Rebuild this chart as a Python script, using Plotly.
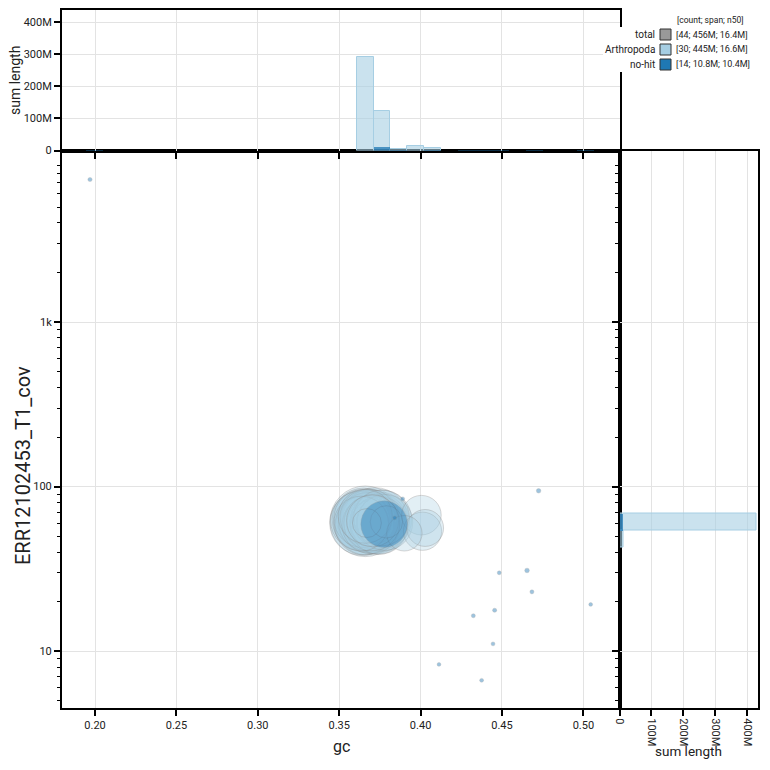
import numpy as np
import plotly.graph_objects as go

# ---------------- data ----------------
# Arthropoda contigs: gc, coverage, length (Mb)
arth_gc = [0.3660, 0.3640, 0.3650, 0.3665, 0.3720, 0.3685, 0.3735, 0.3670, 0.3630,
           0.3750, 0.3655, 0.3690, 0.3765, 0.3675, 0.3645, 0.3695, 0.3745, 0.3680,
           0.3780, 0.3760, 0.3700, 0.3635, 0.3660, 0.3705, 0.4005, 0.4012, 0.4028,
           0.3900, 0.3790, 0.3670]
arth_cov = [61.5, 60.0, 63.0, 59.0, 62.0, 60.5, 59.5, 62.5, 62.0,
            61.0, 58.0, 63.5, 63.0, 61.0, 64.0, 58.5, 58.0, 65.0,
            60.5, 64.5, 60.0, 59.5, 66.0, 62.0, 67.0, 53.5, 56.0,
            52.0, 61.0, 60.0]
arth_len = [24.0, 20.0, 19.0, 18.0, 21.0, 18.0, 18.0, 17.5, 17.0,
            17.0, 16.8, 16.6, 16.6, 16.5, 16.2, 16.0, 16.0, 15.5,
            15.0, 15.0, 15.0, 14.5, 14.0, 13.0, 7.5, 7.0, 6.5,
            6.0, 5.0, 4.0]

# no-hit contigs
nohit_gc = [0.3776, 0.1969, 0.4725, 0.4483, 0.4654, 0.4684, 0.5045, 0.4324,
            0.4455, 0.4445, 0.4113, 0.4375, 0.3841, 0.3890]
nohit_cov = [59.1, 7345, 94.2, 29.9, 30.9, 22.9, 19.2, 16.4,
             17.7, 11.06, 8.30, 6.64, 64.6, 84.2]
nohit_len = [10.4, 0.040, 0.055, 0.030, 0.060, 0.035, 0.025, 0.035,
             0.040, 0.030, 0.025, 0.030, 0.025, 0.030]

legend_names = ["total", "Arthropoda", "no-hit"]
legend_stats = ["[44; 456M; 16.4M]", "[30; 445M; 16.6M]", "[14; 10.8M; 10.4M]"]
legend_header = "[count; span; n50]"

x_title = "gc"
y_title = "ERR12102453_T1_cov"
len_title = "sum length"

gc_ticks = [0.20, 0.25, 0.30, 0.35, 0.40, 0.45, 0.50]
cov_ticks = [10, 100, 1000]
cov_ticktext = ["10", "100", "1k"]
cov_minor = [m * d for d in (1, 10, 100, 1000) for m in range(2, 10)]
len_ticks = [0, 100, 200, 300, 400]
len_ticktext = ["0", "100M", "200M", "300M", "400M"]

# ---------------- style ----------------
PX = 770.0
FONT = "Roboto"
TXT = "#222"
C_ARTH = "#a6cee3"
C_NOHIT = "#1f78b4"
C_TOTAL = "#999999"
GRID = "#e3e3e3"
SIZE_K = 14.4   # px diameter per sqrt(Mb)
SIZE_MIN = 3.0  # px added in quadrature for tiny contigs

X0, X1 = 62 / PX, 619.5 / PX
Y0, Y1 = 1 - 708 / PX, 1 - 150.5 / PX
TOP1 = 1 - 10 / PX
RIGHT1 = 758 / PX

GC_RANGE = [0.1797, 0.5222]
LOGCOV_RANGE = [0.654, 4.0425]


def diam(lengths):
    return np.sqrt(SIZE_K ** 2 * np.asarray(lengths) + SIZE_MIN ** 2)


def px_x(v):
    return v / PX


def px_y(v):
    return 1 - v / PX


fig = go.Figure()

# scatter (blob)
fig.add_trace(go.Scatter(
    x=arth_gc, y=arth_cov, mode="markers",
    marker=dict(size=diam(arth_len), sizemode="diameter",
                color="rgba(166,206,227,0.45)",
                line=dict(color="rgba(140,140,140,0.5)", width=1)),
    xaxis="x", yaxis="y", showlegend=False, hoverinfo="skip"))
fig.add_trace(go.Scatter(
    x=nohit_gc, y=nohit_cov, mode="markers",
    marker=dict(size=diam(nohit_len), sizemode="diameter",
                color="rgba(31,120,180,0.62)",
                line=dict(color="rgba(140,140,140,0.4)", width=0.8)),
    xaxis="x", yaxis="y", showlegend=False, hoverinfo="skip"))

# top histogram (gc)
GC_BIN = 0.0104
GC_START = 0.3607 - 20 * GC_BIN
for gcs, lens, fill, edge, lw in [(arth_gc, arth_len, "rgba(166,206,227,0.6)", C_ARTH, 1),
                                  (nohit_gc, nohit_len, "rgba(31,120,180,0.75)", C_NOHIT, 0)]:
    fig.add_trace(go.Histogram(
        x=gcs, y=lens, histfunc="sum",
        xbins=dict(start=GC_START, end=0.56, size=GC_BIN),
        marker=dict(color=fill, line=dict(color=edge, width=lw)),
        xaxis="x2", yaxis="y2", showlegend=False, hoverinfo="skip"))

# right histogram (log coverage)
COV_BIN = 0.1033
COV_START = 1.735 - 12 * COV_BIN
for covs, lens, fill, edge, lw in [(arth_cov, arth_len, "rgba(166,206,227,0.6)", C_ARTH, 1),
                                   (nohit_cov, nohit_len, "rgba(31,120,180,0.75)", C_NOHIT, 0)]:
    fig.add_trace(go.Histogram(
        y=np.log10(covs), x=lens, histfunc="sum", orientation="h",
        ybins=dict(start=COV_START, end=4.3, size=COV_BIN),
        marker=dict(color=fill, line=dict(color=edge, width=lw)),
        xaxis="x3", yaxis="y3", showlegend=False, hoverinfo="skip"))

axis_common = dict(showline=True, linecolor="black", linewidth=2, mirror=True,
                   ticks="outside", tickcolor="black", tickwidth=1.5, ticklen=6,
                   gridcolor=GRID, gridwidth=1, zeroline=False, automargin=False,
                   tickfont=dict(family=FONT, size=11, color=TXT))

fig.update_layout(
    width=770, height=770,
    margin=dict(l=0, r=0, t=0, b=0),
    paper_bgcolor="white", plot_bgcolor="white",
    barmode="overlay", bargap=0,
    font=dict(family=FONT, color=TXT),
    xaxis=dict(domain=[X0, X1], anchor="y", range=GC_RANGE,
               tickvals=gc_ticks, tickformat=".2f", **axis_common),
    yaxis=dict(domain=[Y0, Y1], anchor="x", type="log", range=LOGCOV_RANGE,
               tickvals=cov_ticks, ticktext=cov_ticktext,
               minor=dict(tickvals=cov_minor, ticks="outside", ticklen=3,
                          tickcolor="black", tickwidth=1, showgrid=False),
               **axis_common),
    xaxis2=dict(domain=[X0, X1], anchor="y2", matches="x", showticklabels=False,
                tickvals=gc_ticks, **axis_common),
    yaxis2=dict(domain=[Y1, TOP1], anchor="x2", range=[0, 438],
                tickvals=len_ticks, ticktext=len_ticktext, **axis_common),
    xaxis3=dict(domain=[X1, RIGHT1], anchor="y3", range=[0, 433],
                tickvals=len_ticks, ticktext=len_ticktext, tickangle=90, **axis_common),
    yaxis3=dict(domain=[Y0, Y1], anchor="x3", range=LOGCOV_RANGE,
                tickvals=list(np.log10(cov_ticks)), showticklabels=False,
                minor=dict(tickvals=list(np.log10(cov_minor)), ticks="outside", ticklen=3,
                           tickcolor="black", tickwidth=1, showgrid=False),
                **axis_common),
)

annotations = []
# axis titles
annotations.append(dict(x=px_x(341), y=px_y(746.5), xref="paper", yref="paper", text=x_title,
                        showarrow=False, xanchor="center", yanchor="middle",
                        font=dict(family=FONT, size=16, color=TXT)))
annotations.append(dict(x=px_x(23), y=px_y(466), xref="paper", yref="paper", text=y_title,
                        showarrow=False, xanchor="center", yanchor="middle", textangle=-90,
                        font=dict(family=FONT, size=20, color=TXT)))
annotations.append(dict(x=px_x(15), y=px_y(81), xref="paper", yref="paper", text=len_title,
                        showarrow=False, xanchor="center", yanchor="middle", textangle=-90,
                        font=dict(family=FONT, size=14, color=TXT)))
annotations.append(dict(x=px_x(688), y=px_y(751), xref="paper", yref="paper", text=len_title,
                        showarrow=False, xanchor="center", yanchor="middle",
                        font=dict(family=FONT, size=13.5, color=TXT)))

# custom legend
shapes = [dict(type="rect", xref="paper", yref="paper", layer="above",
               x0=px_x(603), x1=px_x(752), y0=px_y(72), y1=px_y(27),
               fillcolor="white", line=dict(width=0))]
annotations.append(dict(x=px_x(710), y=px_y(20), xref="paper", yref="paper",
                        text=legend_header, showarrow=False, xanchor="center", yanchor="middle",
                        font=dict(family=FONT, size=8.5, color=TXT)))
colors = [C_TOTAL, C_ARTH, C_NOHIT]
for i, (name, stat, col) in enumerate(zip(legend_names, legend_stats, colors)):
    yc = 34.5 + i * 15
    annotations.append(dict(x=px_x(657), y=px_y(yc), xref="paper", yref="paper",
                            text=name, showarrow=False, xanchor="right", yanchor="middle",
                            font=dict(family=FONT, size=10, color=TXT)))
    annotations.append(dict(x=px_x(674), y=px_y(yc), xref="paper", yref="paper",
                            text=stat, showarrow=False, xanchor="left", yanchor="middle",
                            font=dict(family=FONT, size=9, color=TXT)))
    shapes.append(dict(type="rect", xref="paper", yref="paper", layer="above",
                       x0=px_x(660), x1=px_x(671), y0=px_y(yc + 5.5), y1=px_y(yc - 5.5),
                       fillcolor=col, line=dict(color="#333", width=1)))
fig.update_layout(annotations=annotations, shapes=shapes)

fig.write_html("out.html")
